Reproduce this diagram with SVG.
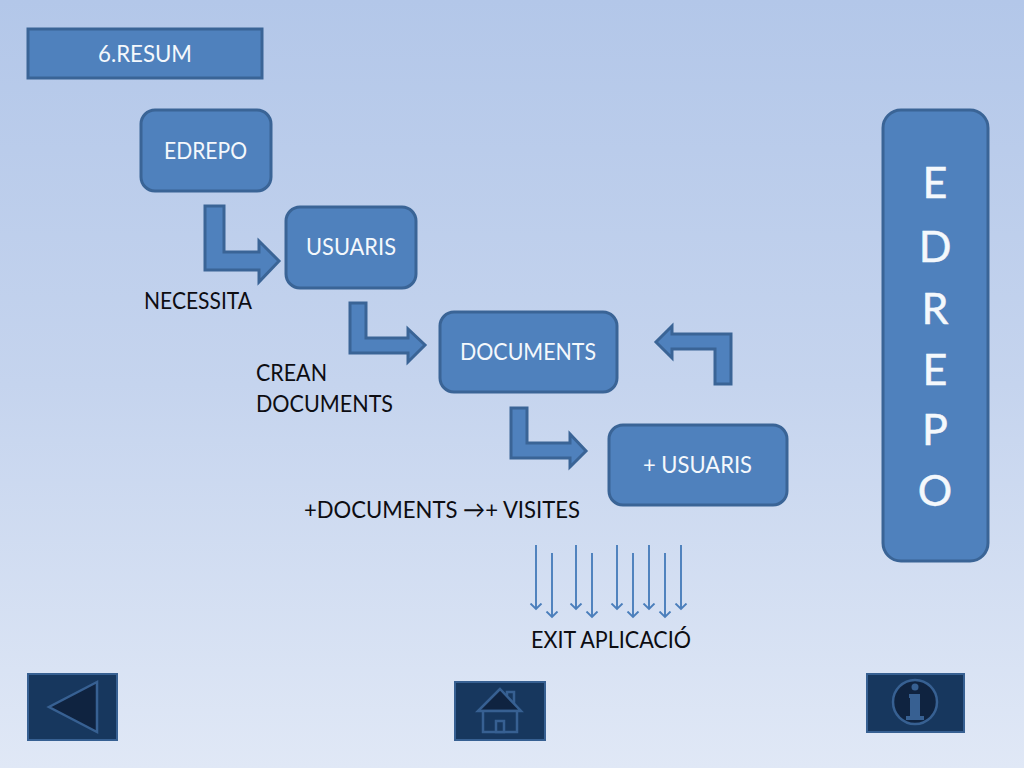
<svg xmlns="http://www.w3.org/2000/svg" width="1024" height="768" viewBox="0 0 1024 768">
<defs>
<linearGradient id="bg" x1="0" y1="0" x2="0" y2="1"><stop offset="0" stop-color="#b3c7e9"/><stop offset="0.5" stop-color="#c5d4ee"/><stop offset="1" stop-color="#e0e8f6"/></linearGradient>
<marker id="open" markerUnits="userSpaceOnUse" markerWidth="14" markerHeight="14" refX="6.500" refY="6.500" orient="auto"><path d="M1 1L6.500 6.500L1 12" fill="none" stroke="#4a7ebb" stroke-width="1.900"/></marker>
</defs>
<style>
.n{fill:#4f81bd;stroke:#3a6496;stroke-width:3}
.w{fill:#f4f8fc;font:23.5px Lato,"Liberation Sans",sans-serif;text-anchor:middle}
.k{fill:#0d0d12;font:23.5px Lato,"Liberation Sans",sans-serif}
.b{fill:#f4f8fc;stroke:#f4f8fc;stroke-width:.5;font:43px Lato,"Liberation Sans",sans-serif;text-anchor:middle}
.t{stroke:#4a7ebb;stroke-width:1.900;fill:none;marker-end:url(#open)}
.btn{fill:#17375e;stroke:#376092;stroke-width:2}
.ic{fill:#0f2340;stroke:#376092;stroke-width:2.500}
.ih{fill:#17375e;stroke:#376092;stroke-width:2.500}
</style>
<rect width="1024" height="768" fill="url(#bg)"/>
<g id="connectors">
<path class="n" d="M205 206H224V252H259V241L279 261L259 282V270H205Z"/>
<path class="n" d="M350 303H366V338H408V329L425 345L408 362V353H350Z"/>
<path class="n" d="M511 408H527V443H570V434L586 451L570 467V458H511Z"/>
<path class="n" d="M731 384H715V349H672V358L656 342L672 326V334H731Z"/>
<path class="t" d="M536 545V609"/>
<path class="t" d="M552 553V617"/>
<path class="t" d="M576 545V609"/>
<path class="t" d="M592 553V617"/>
<path class="t" d="M617 545V609"/>
<path class="t" d="M633 553V617"/>
<path class="t" d="M649 545V609"/>
<path class="t" d="M665 553V617"/>
<path class="t" d="M681 545V609"/>
</g>
<g id="resum"><rect class="n" x="28" y="29" width="234" height="49"/><text class="w" x="145" y="62" textLength="94" lengthAdjust="spacingAndGlyphs">6.RESUM</text></g>
<g id="edrepo"><rect class="n" x="141" y="110" width="130" height="81" rx="14"/><text class="w" x="205.500" y="159" textLength="83" lengthAdjust="spacingAndGlyphs">EDREPO</text></g>
<g id="usuaris"><rect class="n" x="286" y="207" width="130" height="81" rx="14"/><text class="w" x="351" y="255" textLength="90" lengthAdjust="spacingAndGlyphs">USUARIS</text></g>
<g id="documents"><rect class="n" x="440" y="312" width="177" height="80" rx="14"/><text class="w" x="528" y="360" textLength="136" lengthAdjust="spacingAndGlyphs">DOCUMENTS</text></g>
<g id="mes-usuaris"><rect class="n" x="609" y="425" width="178" height="80" rx="14"/><text class="w" x="697.500" y="473" textLength="109" lengthAdjust="spacingAndGlyphs">+ USUARIS</text></g>
<g id="edrepo-vertical"><rect class="n" x="883" y="110" width="105" height="451" rx="18"/>
<text class="b" x="935" y="198">E</text><text class="b" x="935" y="262">D</text><text class="b" x="935" y="324">R</text><text class="b" x="935" y="385">E</text><text class="b" x="935" y="445">P</text><text class="b" x="935" y="506">O</text></g>
<g id="labels">
<text class="k" x="144" y="309" textLength="108" lengthAdjust="spacingAndGlyphs">NECESSITA</text>
<text class="k" x="256" y="381" textLength="71" lengthAdjust="spacingAndGlyphs">CREAN</text>
<text class="k" x="256" y="412" textLength="137" lengthAdjust="spacingAndGlyphs">DOCUMENTS</text>
<text class="k" x="304" y="518" textLength="276" lengthAdjust="spacingAndGlyphs">+DOCUMENTS →+ VISITES</text>
<text class="k" x="531" y="648" textLength="160" lengthAdjust="spacingAndGlyphs">EXIT APLICACIÓ</text>
</g>
<g id="btn-back"><rect class="btn" x="28" y="674" width="89" height="66"/><path class="ic" d="M97 682L49 707L97 732Z"/></g>
<g id="btn-home"><rect class="btn" x="455" y="682" width="90" height="58"/>
<path class="ih" d="M507 692H514V706H507Z"/><path class="ic" d="M500 689L478 711H521Z"/><path class="ih" d="M483 711H517V732H483Z"/><path class="ih" d="M496 721H504V732H496Z"/></g>
<g id="btn-info"><rect class="btn" x="867" y="674" width="97" height="58"/><ellipse class="ic" cx="915" cy="702" rx="22" ry="22"/>
<circle cx="915" cy="687" r="3.500" fill="#376092"/><path d="M909 694H920V716H924V720H906V716H910V698H909Z" fill="#376092"/></g>
</svg>
